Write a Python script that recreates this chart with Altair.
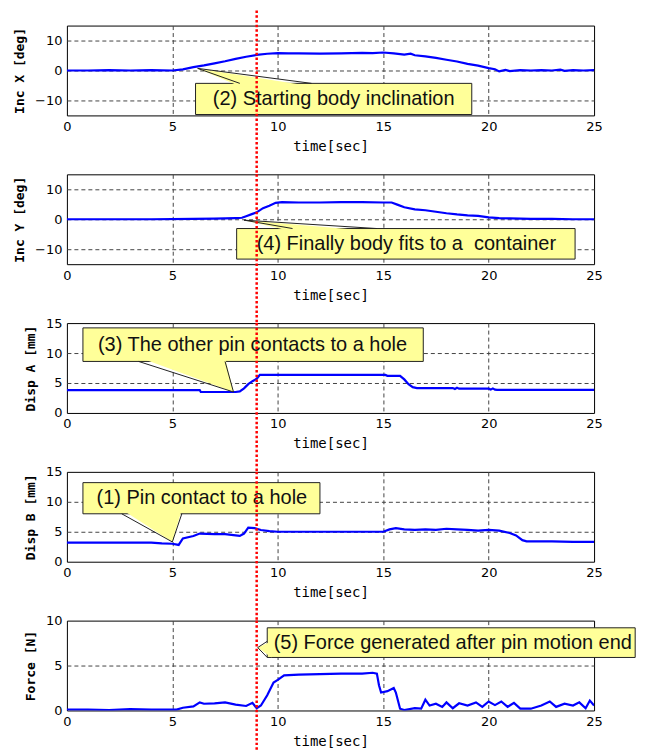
import altair as alt
import pandas as pd

# ---------------- data ----------------
X_DOMAIN = [0, 25]
X_TICKS = [0, 5, 10, 15, 20, 25]
RED_LINE_T = [9.0]

incx_t = [0, 1, 2, 3, 4, 5, 5.5, 6, 6.5, 7, 7.5, 8, 8.5, 9, 9.5, 10, 10.5, 11, 12, 13, 14, 14.5, 15, 15.5,
          16, 16.3, 16.5, 17, 17.5, 18, 18.5, 19, 19.5, 20, 20.3, 20.5, 20.8, 21, 21.5, 22, 22.5, 23, 23.4,
          23.6, 24, 24.5, 25]
incx_v = [0, 0, 0.1, 0, 0.1, 0, 0.4, 1.1, 1.7, 2.4, 3.1, 3.9, 4.6, 5.2, 5.6, 5.8, 5.7, 5.7, 5.6, 5.7, 5.9,
          5.8, 6.0, 5.7, 5.3, 5.6, 5.1, 4.7, 4.2, 3.6, 3.0, 2.2, 1.6, 0.8, 0.4, -0.3, 0.2, -0.2, 0.1, 0, 0.1,
          0, 0.3, -0.1, 0.1, 0, 0.1]

incy_t = [0, 2, 4, 6, 7, 7.5, 8, 8.3, 8.5, 8.8, 9.0, 9.3, 9.6, 9.9, 10.2, 11, 12, 13, 14, 15, 15.4, 15.7,
          16, 16.5, 17, 17.5, 18, 18.5, 19, 19.5, 20, 20.5, 21, 22, 23, 24, 25]
incy_v = [0, 0, 0, 0.1, 0.2, 0.3, 0.4, 0.5, 1.0, 1.8, 2.3, 3.7, 4.5, 5.5, 5.7, 5.6, 5.6, 5.7, 5.7, 5.6, 5.6,
          4.8, 4.0, 3.3, 3.0, 2.5, 2.0, 1.6, 1.3, 1.1, 0.6, 0.4, 0.3, 0.1, 0.1, 0, 0]

dispa_t = [0, 6.3, 6.35, 8.0, 8.2, 8.4, 8.6, 8.8, 9.0, 9.15, 15.1, 15.2, 15.8, 16.0, 16.2, 16.4, 16.6, 18.3,
           18.4, 18.5, 18.6, 20.0, 20.1, 20.2, 20.3, 20.4, 25]
dispa_v = [3.8, 3.8, 3.5, 3.5, 3.6, 4.1, 4.8, 5.3, 5.7, 6.35, 6.35, 6.2, 6.2, 5.6, 4.8, 4.3, 4.15, 4.15,
           4.0, 4.2, 4.05, 4.05, 3.9, 4.1, 3.9, 3.85, 3.85]

dispb_t = [0, 2, 4, 4.5, 5.0, 5.3, 5.5, 6.0, 6.3, 7.0, 7.5, 8.0, 8.2, 8.4, 8.6, 8.9, 9.2, 9.6, 10, 12, 14,
           15, 15.3, 15.6, 16, 16.5, 17, 17.5, 18, 18.5, 19, 19.5, 20, 20.5, 21, 21.3, 21.6, 21.8, 23, 24, 25]
dispb_v = [3.2, 3.2, 3.2, 3.05, 3.0, 2.8, 3.9, 4.3, 4.7, 4.6, 4.6, 4.4, 4.3, 4.7, 5.7, 5.6, 5.3, 5.1, 5.0,
           5.0, 5.0, 5.0, 5.4, 5.6, 5.4, 5.3, 5.4, 5.3, 5.5, 5.4, 5.3, 5.2, 5.3, 5.2, 4.8, 4.4, 3.6, 3.4,
           3.4, 3.3, 3.3]

force_t = [0, 1, 2, 3, 4, 5, 5.2, 5.5, 6.0, 6.3, 6.5, 7.0, 7.5, 8.0, 8.5, 8.8, 9.0, 9.2, 9.5, 9.8, 10, 10.3,
           11, 12, 13, 14, 14.5, 14.7, 14.8, 14.9, 15.2, 15.5, 15.6, 15.8, 16, 16.5, 16.8, 17.0, 17.2, 17.5,
           17.8, 18.0, 18.3, 18.6, 19.0, 19.4, 19.7, 20.0, 20.3, 20.6, 20.9, 21.2, 21.5, 22.0, 22.5, 22.9,
           23.2, 23.6, 24.0, 24.3, 24.6, 24.8, 25]
force_v = [0.1, 0.1, 0.05, 0.15, 0.1, 0.1, 0.1, 0.3, 0.45, 0.9, 0.75, 0.8, 0.9, 0.65, 0.5, 0.85, 0.25,
           0.55, 1.7, 3.1, 3.4, 3.9, 4.0, 4.05, 4.1, 4.1, 4.2, 4.1, 2.8, 2.0, 2.15, 2.5, 2.0, 0.2, 0.05,
           0.25, 0.2, 1.2, 0.55, 0.75, 0.4, 0.9, 0.25, 0.8, 0.55, 0.9, 0.4, 1.0, 0.6, 1.0, 0.4, 0.85, 0.2,
           0.2, 0.55, 1.0, 0.4, 0.75, 0.55, 0.9, 0.25, 1.1, 0.55]

# callouts: text, box [x1, x2, y1, y2], text centre [x, y], pointer tip [x, y], pointer base
callout_text = [
    "(2) Starting body inclination",
    "(4) Finally body fits to a\u00a0 container",
    "(3) The other pin contacts to a hole",
    "(1) Pin contact to a hole",
    "(5) Force generated after pin motion end",
]
callout_box = [
    [6.1, 19.2, -4.3, -14.7],
    [8.05, 24.1, -3.1, -13.3],
    [0.76, 16.9, 8.6, 14.2],
    [0.76, 12.0, 8.0, 13.2],
    [9.5, 26.95, 5.9, 9.2],
]
callout_center = [
    [12.65, -9.5],
    [16.1, -8.2],
    [8.8, 11.4],
    [6.4, 10.6],
    [18.3, 7.55],
]
pointer_tip = [
    [6.2, 0.7],
    [8.4, -0.3],
    [7.9, 3.5],
    [5.0, 3.3],
    [9.05, 7.0],
]
# base: (coordinate of box edge, inward coordinate, low end, high end)
pointer_base = [
    [-4.3, -5.3, 8.2, 11.6],
    [-3.1, -4.1, 10.7, 14.7],
    [8.6, 9.3, 3.4, 7.5],
    [8.0, 8.7, 2.6, 5.45],
    [9.5, 9.7, 5.9, 7.7],
]
pointer_orient = ["h", "h", "h", "h", "v"]

y_titles = ["Inc X [deg]", "Inc Y [deg]", "Disp A [mm]", "Disp B [mm]", "Force [N]"]
y_domains = [[-15, 15], [-15, 15], [0, 15], [0, 15], [0, 10]]
y_ticks = [[-10, 0, 10], [-10, 0, 10], [0, 5, 10, 15], [0, 5, 10, 15], [0, 5, 10]]
series_t = [incx_t, incy_t, dispa_t, dispb_t, force_t]
series_v = [incx_v, incy_v, dispa_v, dispb_v, force_v]

# ---------------- styling ----------------
W, H = 528, 90
GAP = 59
BLUE = "#0000ff"
YELLOW = "#ffff99"
TICK_FONT = "DejaVu Sans"
TITLE_FONT = "DejaVu Sans Mono"
NOTE_FONT = "Liberation Sans"


def panel(i):
    xs = alt.Scale(domain=X_DOMAIN, nice=False, zero=False)
    ys = alt.Scale(domain=y_domains[i], nice=False, zero=False)
    lo, hi = y_domains[i]
    grid_op = {"condition": {"test": f"datum.value == {lo} || datum.value == {hi}", "value": 0}, "value": 1}
    xgrid_op = {"condition": {"test": "datum.value == 0 || datum.value == 25", "value": 0}, "value": 1}
    xax = alt.Axis(values=X_TICKS, title="time[sec]", gridOpacity=xgrid_op)
    yax = alt.Axis(values=y_ticks[i], title=y_titles[i], gridOpacity=grid_op)

    df = pd.DataFrame({"t": series_t[i], "v": series_v[i]})
    line = alt.Chart(df).mark_line(color=BLUE, strokeWidth=2.2, clip=True).encode(
        x=alt.X("t:Q", scale=xs, axis=xax),
        y=alt.Y("v:Q", scale=ys, axis=yax),
    )

    b = callout_box[i]
    box_df = pd.DataFrame({"x1": [b[0]], "x2": [b[1]], "y1": [b[2]], "y2": [b[3]]})
    box = alt.Chart(box_df).mark_rect(fill=YELLOW, stroke="#222222", strokeWidth=1).encode(
        x=alt.X("x1:Q", scale=xs, axis=xax), x2="x2:Q",
        y=alt.Y("y1:Q", scale=ys, axis=yax), y2="y2:Q",
    )

    tip = pointer_tip[i]
    pb = pointer_base[i]
    if pointer_orient[i] == "h":
        p_df = pd.DataFrame({"py": [tip[1], pb[1]], "px": [tip[0], pb[2]], "px2": [tip[0], pb[3]]})
        ptr = alt.Chart(p_df).mark_area(orient="horizontal", fill=YELLOW, strokeWidth=0).encode(
            y=alt.Y("py:Q", scale=ys, axis=yax),
            x=alt.X("px:Q", scale=xs, axis=xax), x2="px2:Q",
        )
        seg = pd.DataFrame({"sx": [tip[0], tip[0]], "sy": [tip[1], tip[1]],
                            "ex": [pb[2], pb[3]], "ey": [pb[0], pb[0]]})
    else:
        p_df = pd.DataFrame({"px": [tip[0], pb[1]], "py": [tip[1], pb[2]], "py2": [tip[1], pb[3]]})
        ptr = alt.Chart(p_df).mark_area(orient="vertical", fill=YELLOW, strokeWidth=0).encode(
            x=alt.X("px:Q", scale=xs, axis=xax),
            y=alt.Y("py:Q", scale=ys, axis=yax), y2="py2:Q",
        )
        seg = pd.DataFrame({"sx": [tip[0], tip[0]], "sy": [tip[1], tip[1]],
                            "ex": [pb[0], pb[0]], "ey": [pb[2], pb[3]]})
    sides = alt.Chart(seg).mark_rule(color="#222222", strokeWidth=1).encode(
        x=alt.X("sx:Q", scale=xs, axis=xax), y=alt.Y("sy:Q", scale=ys, axis=yax),
        x2="ex:Q", y2="ey:Q",
    )

    c = callout_center[i]
    txt_df = pd.DataFrame({"x": [c[0]], "y": [c[1]], "label": [callout_text[i]]})
    txt = alt.Chart(txt_df).mark_text(font=NOTE_FONT, fontSize=20, color="#111111",
                                      align="center", baseline="middle").encode(
        x=alt.X("x:Q", scale=xs, axis=xax), y=alt.Y("y:Q", scale=ys, axis=yax), text="label:N",
    )

    top = -15 if i == 0 else 0
    bottom = H + GAP if i < 4 else H + 41
    red = alt.Chart(pd.DataFrame({"t": RED_LINE_T})).mark_rule(
        color="#ff0000", strokeWidth=2.5, strokeDash=[2.5, 2.2]).encode(
        x=alt.X("t:Q", scale=xs, axis=xax), y=alt.value(top), y2=alt.value(bottom),
    )

    return alt.layer(line, box, ptr, sides, txt, red).properties(width=W, height=H)


chart = alt.vconcat(*[panel(i) for i in range(5)], spacing=GAP, bounds="flush").properties(
    padding={"left": 5, "top": 0, "right": 0, "bottom": 0}
).configure_view(stroke="black", strokeWidth=1).configure_axis(
    grid=True, gridColor="#444444", gridDash=[4, 3], gridWidth=1,
    domain=False, ticks=False,
    labelFont=TICK_FONT, labelFontSize=13, labelColor="black", labelPadding=5,
    titleFont=TITLE_FONT, titleColor="black",
).configure_axisX(
    titleFontSize=14, titleFontWeight="normal", titlePadding=6, labelFlush=False,
).configure_axisY(
    titleFontSize=13, titleFontWeight="bold", titlePadding=8,
)

chart.save("out.html", embed_options={"renderer": "svg", "actions": False})
